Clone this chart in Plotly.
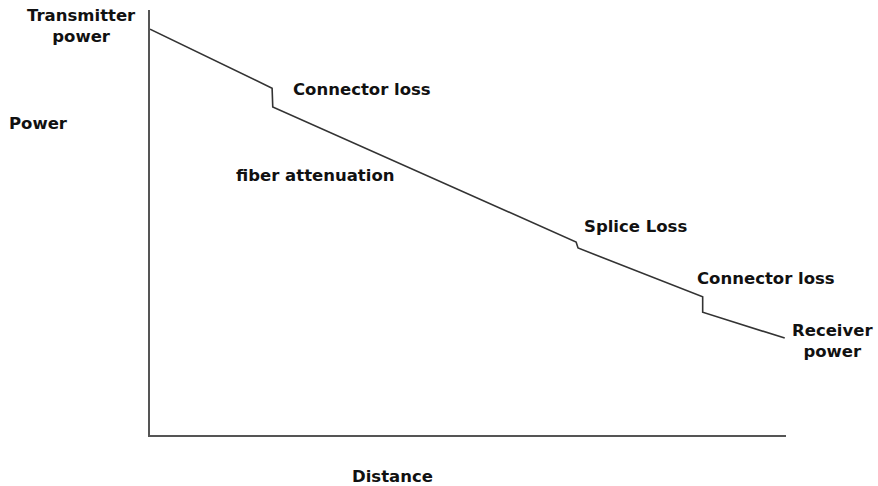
import plotly.graph_objects as go

# Power budget along a fibre link (arbitrary units)
distance = [0, 19.2, 19.3, 67.0, 67.3, 86.9, 86.9, 99.8]
power = [95.5, 81.6, 77.2, 45.4, 44.0, 32.5, 28.9, 22.8]

# Labels: (text, x pixel centre, y pixel centre)
labels = [
    ("Transmitter<br>power", 81, 26),
    ("Power", 38, 123),
    ("Connector loss", 362, 89),
    ("fiber attenuation", 315, 175),
    ("Splice Loss", 635, 227),
    ("Connector loss", 766, 278),
    ("Receiver<br>power", 832, 341),
    ("Distance", 392, 476),
]

W, H = 878, 486
x0_px, x1_px = 150, 786
y_top_px, y_bot_px = 10, 435

fig = go.Figure()
fig.add_trace(go.Scatter(
    x=distance, y=power, mode="lines",
    line=dict(color="#333333", width=1.6),
    hoverinfo="skip", showlegend=False,
))

font = dict(family="DejaVu Sans", size=16.5, color="#111111", weight="bold")
for text, px, py in labels:
    fig.add_annotation(
        x=px / W, y=1 - py / H, xref="paper", yref="paper",
        text=text, showarrow=False, xanchor="center", yanchor="middle",
        font=font, align="center",
    )

axis_common = dict(
    showgrid=False, zeroline=False, showticklabels=False, ticks="",
    showline=True, linecolor="#555555", linewidth=2,
)
fig.update_layout(
    width=W, height=H,
    margin=dict(l=0, r=0, t=0, b=0),
    paper_bgcolor="white", plot_bgcolor="white",
    xaxis=dict(range=[0, 100], domain=[x0_px / W, x1_px / W], **axis_common),
    yaxis=dict(range=[0, 100], domain=[1 - y_bot_px / H, 1 - y_top_px / H], **axis_common),
)

fig.write_html("out.html")
